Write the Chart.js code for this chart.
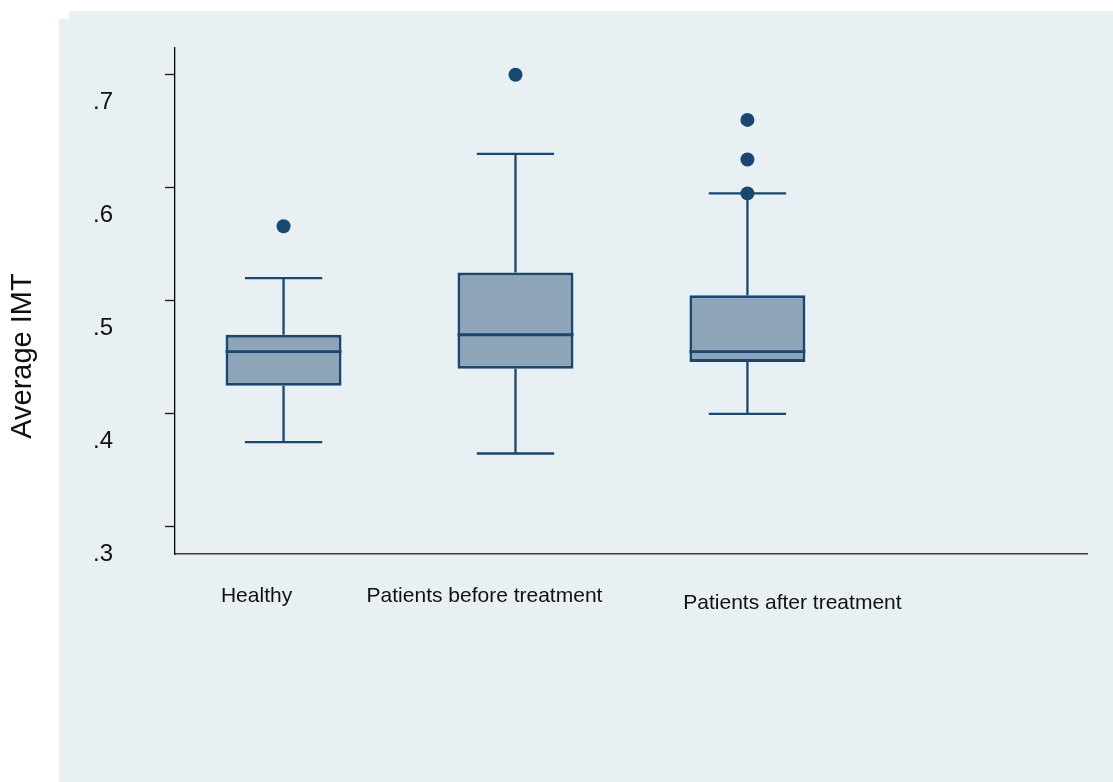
<!DOCTYPE html>
<html>
<head>
<meta charset="utf-8">
<script src="https://cdn.jsdelivr.net/npm/chart.js@4.4.1/dist/chart.umd.min.js"></script>
<style>
  html, body { margin: 0; padding: 0; background: #ffffff; }
  #wrap { width: 1113px; height: 782px; }
  canvas { display: block; }
</style>
</head>
<body>
<div id="wrap"><canvas id="c" width="1113" height="782"></canvas></div>
<script>
// ---- data ----
const categories = ['Healthy', 'Patients before treatment', 'Patients after treatment'];
const lowerWhisker = [0.375, 0.365, 0.400];
const q1 = [0.425, 0.440, 0.446];
const median = [0.455, 0.470, 0.455];
const q3 = [0.470, 0.525, 0.505];
const upperWhisker = [0.520, 0.630, 0.595];
const outlierGroup = [1, 2, 3, 3, 3];
const outlierValue = [0.566, 0.700, 0.660, 0.625, 0.595];
const yTickValues = [0.3, 0.4, 0.5, 0.6, 0.7];
const yTickLabels = ['.3', '.4', '.5', '.6', '.7'];
const yTitle = 'Average IMT';

// ---- styles ----
const NAVY = '#1a476f';
const BOXFILL = '#8ea4b8';
const PANEL = '#e8f0f3';
const FONT = "'Liberation Sans', Arial, Helvetica, sans-serif";
const labelShift = [{dx: -27, dy: 48}, {dx: -31, dy: 48}, {dx: 45, dy: 55}];

const boxPlugin = {
  id: 'boxExtras',
  beforeDraw(chart) {
    const ctx = chart.ctx;
    ctx.save();
    ctx.fillStyle = '#ffffff';
    ctx.fillRect(0, 0, chart.width, chart.height);
    ctx.fillStyle = PANEL;
    ctx.fillRect(59, 19, chart.width - 59, chart.height - 19);
    ctx.fillRect(69, 11, chart.width - 69, 9);
    ctx.restore();
  },
  afterDatasetsDraw(chart) {
    const ctx = chart.ctx;
    const xs = chart.scales.x, ys = chart.scales.y;
    const meta = chart.getDatasetMeta(0);
    ctx.save();
    ctx.strokeStyle = NAVY;
    meta.data.forEach((el, i) => {
      const cx = el.x;
      const half = el.width / 2;
      // median
      ctx.lineWidth = 2.8;
      ctx.beginPath();
      ctx.moveTo(cx - half, ys.getPixelForValue(median[i]));
      ctx.lineTo(cx + half, ys.getPixelForValue(median[i]));
      ctx.stroke();
      // whiskers
      ctx.lineWidth = 2.3;
      ctx.beginPath();
      ctx.moveTo(cx, ys.getPixelForValue(q3[i]));
      ctx.lineTo(cx, ys.getPixelForValue(upperWhisker[i]));
      ctx.moveTo(cx, ys.getPixelForValue(q1[i]));
      ctx.lineTo(cx, ys.getPixelForValue(lowerWhisker[i]));
      ctx.stroke();
      // caps
      const xl = xs.getPixelForValue(i + 1 - 1 / 6);
      const xr = xs.getPixelForValue(i + 1 + 1 / 6);
      ctx.beginPath();
      ctx.moveTo(xl, ys.getPixelForValue(upperWhisker[i]));
      ctx.lineTo(xr, ys.getPixelForValue(upperWhisker[i]));
      ctx.moveTo(xl, ys.getPixelForValue(lowerWhisker[i]));
      ctx.lineTo(xr, ys.getPixelForValue(lowerWhisker[i]));
      ctx.stroke();
    });
    ctx.restore();
  },
  afterDraw(chart) {
    const ctx = chart.ctx;
    const xs = chart.scales.x, ys = chart.scales.y;
    const area = chart.chartArea;
    ctx.save();
    ctx.fillStyle = '#111111';
    // y tick labels (offset below their tick marks, as in the reference)
    ctx.font = '24px ' + FONT;
    ctx.textAlign = 'right';
    ctx.textBaseline = 'alphabetic';
    yTickValues.forEach((v, i) => {
      ctx.fillText(yTickLabels[i], 113, ys.getPixelForValue(v) + 34);
    });
    // category labels
    ctx.font = '21px ' + FONT;
    ctx.textAlign = 'center';
    categories.forEach((c, i) => {
      ctx.fillText(c, xs.getPixelForValue(i + 1) + labelShift[i].dx, area.bottom + labelShift[i].dy);
    });
    // y title
    ctx.font = '29px ' + FONT;
    ctx.translate(23, (area.top + area.bottom) / 2 + 55);
    ctx.rotate(-Math.PI / 2);
    ctx.textBaseline = 'middle';
    ctx.fillText(yTitle, 0, 0);
    ctx.restore();
  }
};

new Chart(document.getElementById('c'), {
  data: {
    datasets: [
      {
        type: 'bar',
        data: categories.map((c, i) => ({x: i + 1, y: [q1[i], q3[i]]})),
        backgroundColor: BOXFILL,
        borderColor: NAVY,
        borderWidth: 3,
        borderSkipped: false,
        barPercentage: 1,
        categoryPercentage: 0.5,
        order: 2
      },
      {
        type: 'scatter',
        data: outlierValue.map((v, i) => ({x: outlierGroup[i], y: v})),
        backgroundColor: NAVY,
        borderWidth: 0,
        pointRadius: 7,
        order: 1
      }
    ]
  },
  options: {
    responsive: false,
    animation: false,
    devicePixelRatio: 1,
    layout: { padding: { top: 48, right: 26, left: 0, bottom: 0 } },
    plugins: { legend: { display: false }, tooltip: { enabled: false } },
    scales: {
      x: {
        type: 'linear',
        offset: false,
        min: 0.532,
        max: 4.464,
        afterBuildTicks(scale) { scale.ticks = categories.map((c, i) => ({value: i + 1})); },
        grid: { display: false },
        ticks: { display: false },
        border: { display: true, color: '#3a3a3a', width: 1.5 },
        afterFit(scale) { scale.height = 228; }
      },
      y: {
        type: 'linear',
        min: 0.2761,
        max: 0.7236,
        afterBuildTicks(scale) { scale.ticks = yTickValues.map(v => ({value: v})); },
        ticks: { display: false },
        grid: { display: true, drawOnChartArea: false, drawTicks: true, tickLength: 10, tickColor: '#222222', tickWidth: 1.4 },
        border: { display: true, color: '#000000', width: 1.3 },
        afterFit(scale) { scale.width = 175; }
      }
    }
  },
  plugins: [boxPlugin]
});
</script>
</body>
</html>
